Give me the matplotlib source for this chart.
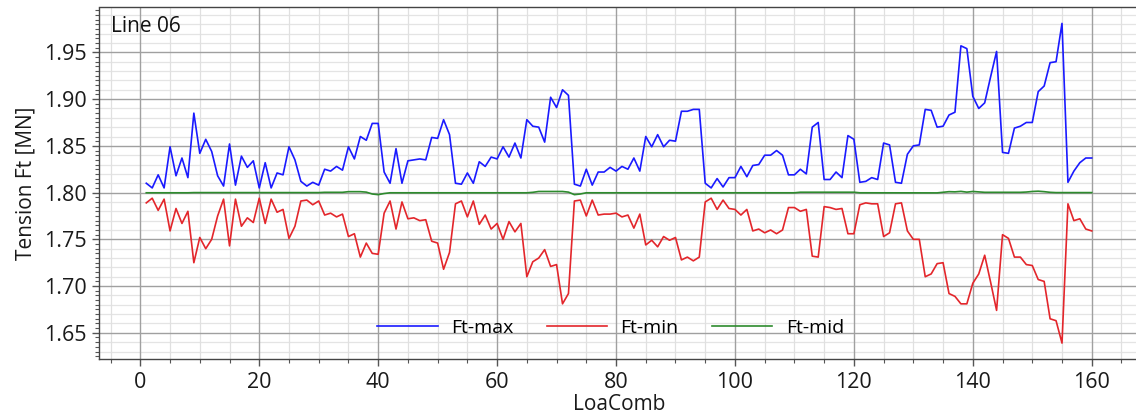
import numpy as np
import matplotlib
matplotlib.use("Agg")
import matplotlib.pyplot as plt
from matplotlib.ticker import MultipleLocator, FormatStrFormatter

plt.rcParams['font.family'] = ['Open Sans', 'DejaVu Sans']

loacomb = list(range(1, 161))

ft_max = [
    1.810, 1.805, 1.819, 1.805, 1.849, 1.818, 1.837, 1.816, 1.885, 1.842,
    1.857, 1.844, 1.818, 1.807, 1.852, 1.808, 1.839, 1.827, 1.834, 1.805,
    1.832, 1.805, 1.821, 1.819, 1.849, 1.835, 1.812, 1.807, 1.811, 1.808,
    1.825, 1.823, 1.828, 1.824, 1.849, 1.836, 1.860, 1.856, 1.874, 1.874,
    1.822, 1.810, 1.847, 1.810, 1.834, 1.835, 1.836, 1.835, 1.859, 1.858,
    1.878, 1.862, 1.810, 1.809, 1.821, 1.810, 1.833, 1.828, 1.838, 1.836,
    1.849, 1.838, 1.853, 1.837, 1.878, 1.871, 1.870, 1.854, 1.902, 1.891,
    1.910, 1.904, 1.809, 1.807, 1.825, 1.808, 1.822, 1.822, 1.827, 1.823,
    1.828, 1.825, 1.837, 1.823, 1.860, 1.849, 1.862, 1.849, 1.856, 1.855,
    1.887, 1.887, 1.889, 1.889, 1.810, 1.805, 1.815, 1.806, 1.816, 1.816,
    1.828, 1.817, 1.829, 1.830, 1.840, 1.840, 1.845, 1.840, 1.819, 1.819,
    1.825, 1.820, 1.870, 1.875, 1.814, 1.814, 1.822, 1.816, 1.861, 1.857,
    1.811, 1.812, 1.816, 1.814, 1.853, 1.851, 1.811, 1.810, 1.841, 1.850,
    1.851, 1.889, 1.888, 1.870, 1.871, 1.883, 1.886, 1.957, 1.954, 1.903,
    1.890, 1.896, 1.924, 1.951, 1.843, 1.842, 1.869, 1.871, 1.875, 1.875,
    1.908, 1.914, 1.939, 1.940, 1.981, 1.811, 1.823, 1.832, 1.837, 1.837,
]

ft_min = [
    1.789, 1.794, 1.781, 1.793, 1.759, 1.783, 1.767, 1.780, 1.725, 1.752,
    1.740, 1.750, 1.775, 1.793, 1.743, 1.793, 1.764, 1.773, 1.768, 1.794,
    1.767, 1.793, 1.779, 1.782, 1.751, 1.764, 1.791, 1.792, 1.787, 1.791,
    1.776, 1.778, 1.774, 1.777, 1.753, 1.756, 1.731, 1.746, 1.735, 1.734,
    1.778, 1.791, 1.761, 1.790, 1.772, 1.773, 1.770, 1.771, 1.748, 1.746,
    1.718, 1.736, 1.788, 1.791, 1.774, 1.791, 1.766, 1.776, 1.761, 1.767,
    1.750, 1.769, 1.758, 1.767, 1.710, 1.726, 1.730, 1.739, 1.721, 1.723,
    1.681, 1.692, 1.791, 1.792, 1.775, 1.792, 1.776, 1.777, 1.777, 1.778,
    1.774, 1.776, 1.762, 1.777, 1.744, 1.749, 1.742, 1.753, 1.749, 1.752,
    1.728, 1.731, 1.727, 1.731, 1.790, 1.794, 1.782, 1.792, 1.783, 1.782,
    1.776, 1.782, 1.759, 1.761, 1.757, 1.760, 1.756, 1.760, 1.784, 1.784,
    1.780, 1.782, 1.732, 1.731, 1.785, 1.784, 1.782, 1.783, 1.756, 1.756,
    1.787, 1.789, 1.788, 1.788, 1.753, 1.757, 1.788, 1.789, 1.759, 1.750,
    1.750, 1.710, 1.713, 1.724, 1.725, 1.692, 1.689, 1.681, 1.681, 1.703,
    1.713, 1.733, 1.704, 1.674, 1.755, 1.751, 1.731, 1.731, 1.723, 1.722,
    1.707, 1.705, 1.665, 1.663, 1.639, 1.788, 1.770, 1.772, 1.761, 1.759,
]

ft_mid = [
    1.7998, 1.7998, 1.7998, 1.7998, 1.7998, 1.7998, 1.7998, 1.7998, 1.8000, 1.8000,
    1.8000, 1.8000, 1.8000, 1.8000, 1.8000, 1.8000, 1.8000, 1.8000, 1.8000, 1.8000,
    1.8000, 1.8000, 1.8000, 1.8000, 1.8000, 1.8000, 1.8000, 1.8000, 1.8000, 1.8000,
    1.8003, 1.8003, 1.8003, 1.8003, 1.8010, 1.8010, 1.8010, 1.8005, 1.7985, 1.7978,
    1.7990, 1.7998, 1.7998, 1.7998, 1.7998, 1.7998, 1.7998, 1.7998, 1.7998, 1.7998,
    1.7998, 1.7998, 1.7998, 1.7998, 1.7998, 1.7998, 1.7998, 1.7998, 1.7998, 1.7998,
    1.7998, 1.7998, 1.7998, 1.7998, 1.7998, 1.8003, 1.8012, 1.8012, 1.8012, 1.8012,
    1.8012, 1.8005, 1.7978, 1.7985, 1.7998, 1.7998, 1.7998, 1.7998, 1.7998, 1.7998,
    1.7998, 1.7998, 1.7998, 1.7998, 1.7998, 1.7998, 1.7998, 1.7998, 1.7998, 1.7998,
    1.7998, 1.7998, 1.7998, 1.7998, 1.7998, 1.7998, 1.7998, 1.7998, 1.7998, 1.7998,
    1.7998, 1.7998, 1.7998, 1.7998, 1.7998, 1.7998, 1.7998, 1.7998, 1.7998, 1.7998,
    1.8004, 1.8004, 1.8004, 1.8004, 1.8004, 1.8004, 1.8004, 1.8004, 1.8004, 1.8004,
    1.7998, 1.7998, 1.7998, 1.7998, 1.7998, 1.7998, 1.7998, 1.7998, 1.7998, 1.7998,
    1.7998, 1.7998, 1.7998, 1.7997, 1.8003, 1.8010, 1.8008, 1.8013, 1.8005, 1.8012,
    1.8008, 1.8003, 1.8003, 1.8003, 1.8003, 1.8003, 1.8003, 1.8003, 1.8006, 1.8012,
    1.8015, 1.8010, 1.8003, 1.8000, 1.8000, 1.8000, 1.8000, 1.8000, 1.8000, 1.8000,
]

fig = plt.figure(figsize=(11.36, 4.19), dpi=100)
ax = fig.add_axes([99/1136, 1 - 359/419, (1139 - 99)/1136, (359 - 7.5)/419])

ax.plot(loacomb, ft_max, color='#1a1aff', lw=1.2, label='Ft-max', zorder=3)
ax.plot(loacomb, ft_min, color='#e3262b', lw=1.2, label='Ft-min', zorder=3)
ax.plot(loacomb, ft_mid, color='#2e8b2e', lw=1.2, label='Ft-mid', zorder=3)

ax.set_xlim(-6.95, 167.95)
ax.set_ylim(1.622, 1.998)

ax.xaxis.set_major_locator(MultipleLocator(20))
ax.xaxis.set_minor_locator(MultipleLocator(5))
ax.yaxis.set_major_locator(MultipleLocator(0.05))
ax.yaxis.set_minor_locator(MultipleLocator(0.005))
ax.yaxis.set_major_formatter(FormatStrFormatter('%.2f'))

ax.grid(which='major', color='#a0a0a0', lw=1.0, zorder=0)
ax.grid(which='minor', axis='x', color='#e0e0e0', lw=0.9, zorder=0)
for yv in np.arange(1.63, 1.995, 0.01):
    if abs(round(yv / 0.05) * 0.05 - yv) > 1e-6:
        ax.axhline(yv, color='#e4e4e4', lw=0.9, zorder=0)

ax.tick_params(which='major', direction='out', length=5, width=1, color='#555555',
               labelsize=15.5, labelcolor='#1a1a1a', pad=4)
ax.tick_params(which='minor', direction='out', length=3, width=0.8, color='#555555')
for s in ax.spines.values():
    s.set_color('#444444')
    s.set_linewidth(1.0)

ax.set_xlabel('LoaComb', fontsize=15, color='#1a1a1a', labelpad=1)
ax.set_ylabel('Tension Ft [MN]', fontsize=15, color='#1a1a1a', labelpad=5)

ax.text(0.0115, 0.975, 'Line 06', transform=ax.transAxes, ha='left', va='top',
        fontsize=15, color='#111111')

ax.legend(loc='center', bbox_to_anchor=(0.492, 0.088), ncol=3, frameon=False,
          fontsize=14, handlelength=3.1, handletextpad=0.7, columnspacing=1.7)

fig.savefig('out.png', dpi=100)
